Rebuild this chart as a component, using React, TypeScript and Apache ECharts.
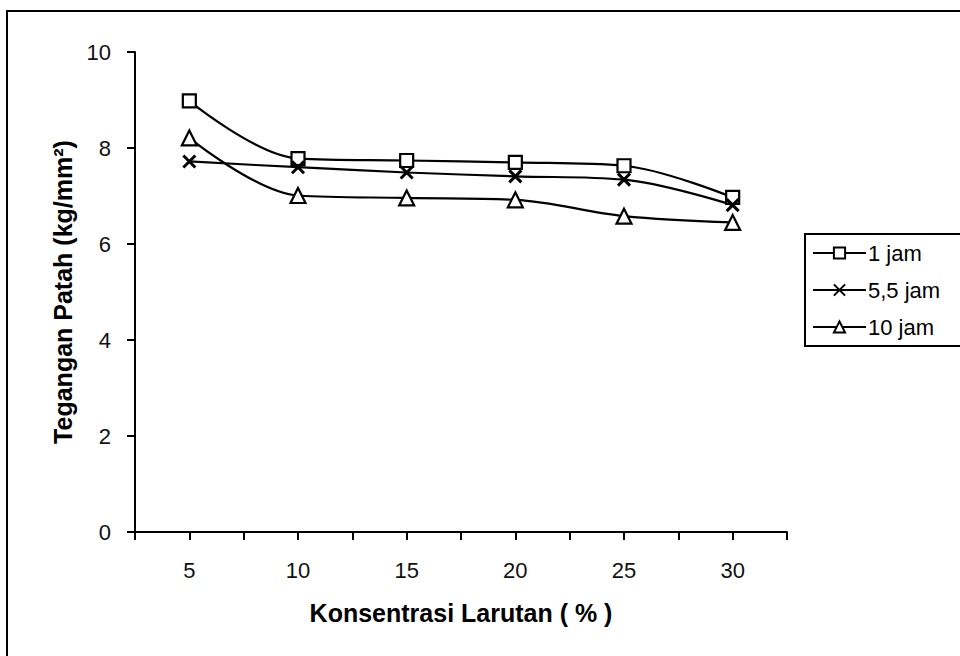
import React, { useEffect, useRef } from "react";
import * as echarts from "echarts";

const concentrations = [5, 10, 15, 20, 25, 30];
const seriesNames = ["1 jam", "5,5 jam", "10 jam"];
const jam1 = [8.98, 7.78, 7.74, 7.7, 7.63, 6.97];
const jam55 = [7.72, 7.6, 7.49, 7.41, 7.34, 6.81];
const jam10 = [8.21, 7.01, 6.96, 6.92, 6.58, 6.45];
const xAxisTitle = "Konsentrasi Larutan ( % )";
const yAxisTitle = "Tegangan Patah (kg/mm²)";

const FONT = "'Liberation Sans', Arial, sans-serif";

export default function App() {
  const ref = useRef<HTMLDivElement>(null);
  useEffect(() => {
    document.body.style.margin = "0";
    const chart = echarts.init(ref.current!, null, { renderer: "svg" });
    const toPairs = (vals: number[]) => concentrations.map((c, i) => [c, vals[i]]);
    const base = {
      type: "line" as const,
      smooth: 0.35,
      lineStyle: { color: "#000", width: 2.2 },
      itemStyle: { color: "#fff", borderColor: "#000", borderWidth: 2.2 },
      symbolKeepAspect: true,
    };
    chart.setOption({
      animation: false,
      backgroundColor: "#fff",
      textStyle: { fontFamily: FONT, color: "#000" },
      graphic: [
        {
          type: "rect",
          shape: { x: 7, y: 11, width: 1000, height: 700 },
          style: { fill: "none", stroke: "#000", lineWidth: 2 },
          silent: true,
        },
      ],
      grid: { left: 135, right: 173, top: 52, bottom: 124, containLabel: false },
      legend: {
        left: 805,
        top: 234,
        orient: "vertical",
        data: seriesNames,
        borderColor: "#000",
        borderWidth: 2,
        borderRadius: 0,
        padding: [8, 22, 8, 7],
        itemWidth: 53,
        itemHeight: 14,
        itemGap: 15,
        textStyle: { fontFamily: FONT, fontSize: 22, color: "#000", lineHeight: 22, padding: [0, 0, 0, -3] },
      },
      xAxis: {
        type: "value",
        min: 2.5,
        max: 32.5,
        interval: 2.5,
        name: xAxisTitle,
        nameLocation: "middle",
        nameGap: 68,
        nameTextStyle: { fontFamily: FONT, fontSize: 25, fontWeight: "bold", color: "#000" },
        axisLine: { show: true, lineStyle: { color: "#000", width: 2 } },
        axisTick: { show: true, inside: false, length: 8, lineStyle: { color: "#000", width: 2 } },
        splitLine: { show: false },
        axisLabel: {
          fontFamily: FONT,
          fontSize: 22,
          color: "#111",
          margin: 27,
          showMinLabel: true,
          showMaxLabel: true,
          formatter: (v: number) => (v % 5 === 0 ? String(v) : ""),
        },
      },
      yAxis: {
        type: "value",
        min: 0,
        max: 10,
        interval: 2,
        name: yAxisTitle,
        nameLocation: "middle",
        nameGap: 58,
        nameTextStyle: { fontFamily: FONT, fontSize: 25, fontWeight: "bold", color: "#000" },
        axisLine: { show: true, lineStyle: { color: "#000", width: 2 } },
        axisTick: { show: true, inside: false, length: 8, lineStyle: { color: "#000", width: 2 } },
        splitLine: { show: false },
        axisLabel: { fontFamily: FONT, fontSize: 22, color: "#111", margin: 24 },
      },
      series: [
        { ...base, name: seriesNames[0], data: toPairs(jam1), symbol: "rect", symbolSize: 13 },
        {
          ...base,
          name: seriesNames[1],
          data: toPairs(jam55),
          symbol: "path://M0,0L10,10M10,0L0,10",
          symbolSize: 12,
          itemStyle: { color: "#000", borderColor: "#000", borderWidth: 3 },
        },
        { ...base, name: seriesNames[2], data: toPairs(jam10), symbol: "triangle", symbolSize: 15 },
      ],
    });
    return () => chart.dispose();
  }, []);
  return <div ref={ref} style={{ width: 960, height: 656, position: "absolute", left: 0, top: 0 }} />;
}
